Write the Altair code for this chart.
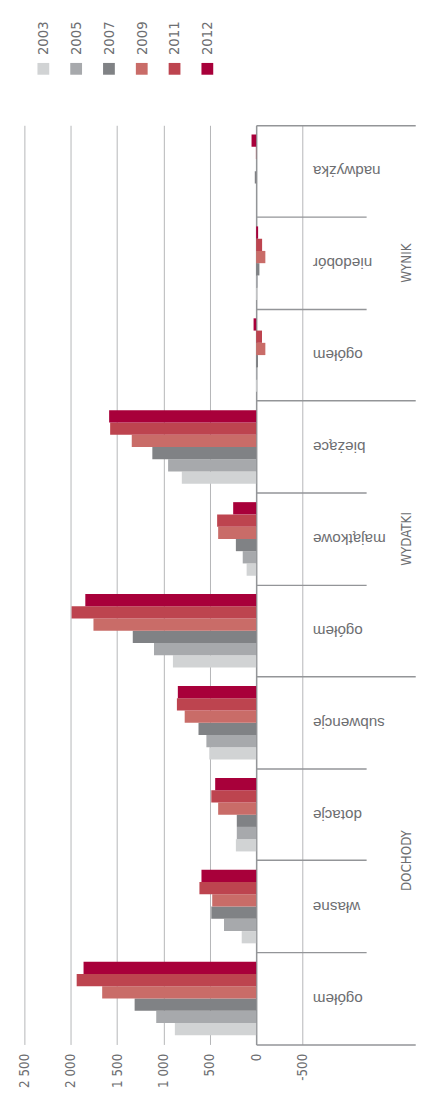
import altair as alt
import pandas as pd

years = ["2003", "2005", "2007", "2009", "2011", "2012"]
year_colors = ["#d1d3d4", "#a7a9ac", "#808285", "#c96c68", "#bd444f", "#a8003a"]

groups = ["WYNIK", "WYDATKI", "DOCHODY"]
wynik_items = ["nadwyżka", "niedobór", "ogółem"]
wydatki_items = ["bieżące", "majątkowe", "ogółem"]
dochody_items = ["subwencje", "dotacje", "własne", "ogółem"]

# values in the order of `years`
wynik_nadwyzka = [0, 0, 15, 0, 3, 50]
wynik_niedobor = [-8, -17, -35, -99, -64, -21]
wynik_ogolem = [-10, -12, -20, -99, -63, 28]
wydatki_biezace = [802, 950, 1120, 1342, 1575, 1586]
wydatki_majatkowe = [103, 145, 219, 410, 421, 248]
wydatki_ogolem = [898, 1102, 1331, 1755, 1991, 1843]
dochody_subwencje = [506, 537, 622, 771, 855, 845]
dochody_dotacje = [219, 209, 209, 410, 484, 442]
dochody_wlasne = [156, 347, 484, 474, 612, 590]
dochody_ogolem = [877, 1078, 1311, 1661, 1936, 1862]

axis_values = [2500, 2000, 1500, 1000, 500, 0, -500]

series = {
    "WYNIK": [wynik_nadwyzka, wynik_niedobor, wynik_ogolem],
    "WYDATKI": [wydatki_biezace, wydatki_majatkowe, wydatki_ogolem],
    "DOCHODY": [dochody_subwencje, dochody_dotacje, dochody_wlasne, dochody_ogolem],
}
items = {"WYNIK": wynik_items, "WYDATKI": wydatki_items, "DOCHODY": dochody_items}
# middle row of each group (DOCHODY sits on the boundary below "dotacje")
group_anchor = {"WYNIK": "niedobór", "WYDATKI": "majątkowe", "DOCHODY": "dotacje"}

keys = []
rows = []
for g in groups:
    for item, vals in zip(items[g], series[g]):
        k = g + "|" + item
        keys.append(k)
        for y, v in zip(years, vals):
            rows.append({"key": k, "group": g, "item": item, "year": y, "value": v})
df = pd.DataFrame(rows)
glabels = pd.DataFrame({"group": groups, "key": [g + "|" + group_anchor[g] for g in groups]})
legend_df = pd.DataFrame({"year": years})

NARROW = "Liberation Sans Narrow, DejaVu Sans Condensed, sans-serif"
REG = "Liberation Sans, Arial, sans-serif"
TXT = "#6d6e71"
AXC = "#939598"
GRID = "#b5b6b8"

color_scale = alt.Scale(domain=years, range=year_colors)

PLOT_W = 383.3
PLOT_H = 936
SHORT = 112
LONG = 162
LABEL_AT = 57.3

is_total = "indexof('' + datum.value, 'ogółem') >= 0"

bars = alt.Chart(df).mark_bar().encode(
    x=alt.X(
        "value:Q",
        scale=alt.Scale(domain=[-1560, 2500], reverse=True, nice=False, zero=False),
        axis=alt.Axis(
            orient="bottom",
            values=axis_values,
            labelExpr="datum.value < 0 ? '-' + abs(datum.value) : replace(format(datum.value, ','), ',', ' ')",
            labelAngle=270,
            labelAlign="right",
            labelBaseline="middle",
            labelPadding=9,
            labelFont=NARROW,
            labelFontSize=13.5,
            labelColor=TXT,
            domain=False,
            ticks=False,
            grid=True,
            gridColor=GRID,
            gridWidth=1,
            title=None,
        ),
    ),
    y=alt.Y(
        "key:N",
        sort=keys,
        scale=alt.Scale(paddingInner=0, paddingOuter=0),
        axis=alt.Axis(
            orient="right",
            offset=-(PLOT_W - 236.0),
            domain=True,
            domainColor=AXC,
            domainWidth=1.5,
            ticks=True,
            tickColor=AXC,
            tickWidth=1.5,
            tickExtra=True,
            bandPosition=1,
            tickSize={"condition": {"test": "datum.extra || " + is_total, "value": LONG}, "value": SHORT},
            labelPadding={"condition": {"test": is_total, "value": LABEL_AT - LONG}, "value": LABEL_AT - SHORT},
            labelExpr="isString(datum.value) ? split(datum.value, '|')[1] : ''",
            labelAngle=180,
            labelAlign="right",
            labelBaseline="middle",
            labelFont=REG,
            labelFontSize=15.5,
            labelColor=TXT,
            grid=False,
            title=None,
        ),
    ),
    yOffset=alt.YOffset(
        "year:N",
        sort=years[::-1],
        scale=alt.Scale(paddingInner=0, paddingOuter=0.75),
    ),
    color=alt.Color("year:N", scale=color_scale, legend=None),
)

gl_mid = alt.Chart(glabels).transform_filter(
    "datum.group != 'DOCHODY'"
).mark_text(angle=270, align="center", baseline="middle", font=NARROW, fontSize=13.5, color=TXT).encode(
    y=alt.Y("key:N", sort=keys, bandPosition=0.5),
    x=alt.value(PLOT_W + 6.5),
    text="group:N",
)
gl_edge = alt.Chart(glabels).transform_filter(
    "datum.group == 'DOCHODY'"
).mark_text(angle=270, align="center", baseline="middle", font=NARROW, fontSize=13.5, color=TXT).encode(
    y=alt.Y("key:N", sort=keys, bandPosition=1),
    x=alt.value(PLOT_W + 6.5),
    text="group:N",
)

lx = alt.X("year:N", sort=years, axis=None,
           scale=alt.Scale(range=[2.6, 203.0], paddingInner=0, paddingOuter=0))
lsq = alt.Chart(legend_df).mark_square(size=144, opacity=1).encode(
    x=lx,
    y=alt.value(-57.5),
    color=alt.Color("year:N", scale=color_scale, legend=None),
)
ltxt = alt.Chart(legend_df).mark_text(angle=270, align="left", baseline="middle",
                                      font=NARROW, fontSize=15, color=TXT).encode(
    x=lx,
    y=alt.value(-71.5),
    text="year:N",
)

chart = alt.layer(bars, gl_mid, gl_edge, lsq, ltxt).resolve_scale(
    x="independent"
).properties(
    width=PLOT_W,
    height=PLOT_H,
    autosize=alt.AutoSizeParams(type="none"),
    padding={"left": 16.7, "top": 109.5, "right": 16.5, "bottom": 40},
).configure_view(stroke=None)

chart.save("out.html", embed_options={"renderer": "svg", "actions": False})
